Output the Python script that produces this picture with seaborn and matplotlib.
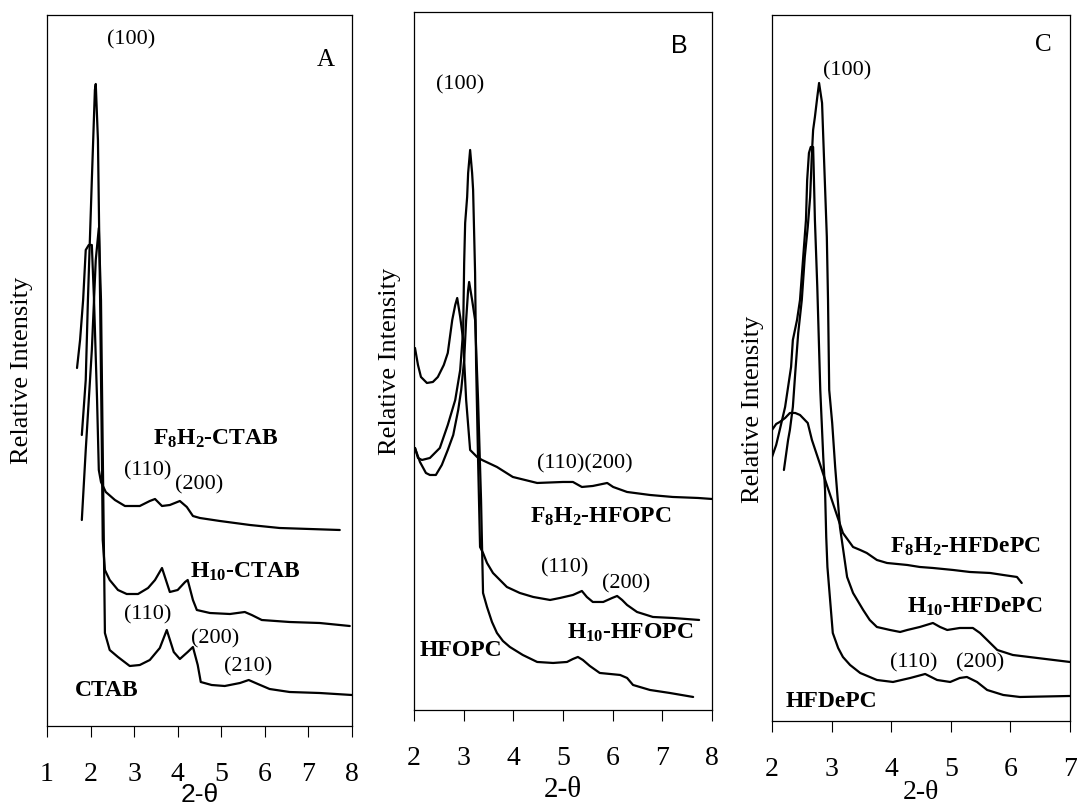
import numpy as np
import pandas as pd
import seaborn as sns
import matplotlib.pyplot as plt

# ---- panel A : CTAB series (2-theta, relative intensity) ----
a_ctab_x = [1.80, 1.89, 2.03, 2.12, 2.19, 2.24, 2.28, 2.31, 2.33, 2.44, 2.63, 2.90, 3.13, 3.36, 3.59, 3.75,
            3.91, 4.05, 4.23, 4.35, 4.46, 4.53, 4.78, 5.08, 5.43, 5.63, 5.84, 6.11, 6.57, 7.26, 8.00]
a_ctab_y = [206, 276, 376, 466, 498, 426, 276, 166, 93, 76, 69, 60, 61, 66, 78, 96,
            74, 67, 74, 79, 61, 44, 41, 40, 43, 46, 42, 37, 34, 33, 31]
a_h10_x = [1.80, 1.89, 1.94, 2.03, 2.10, 2.12, 2.17, 2.22, 2.26, 2.28, 2.33, 2.44, 2.63, 2.83, 3.09, 3.32,
           3.48, 3.64, 3.73, 3.82, 4.00, 4.17, 4.23, 4.35, 4.44, 4.74, 5.20, 5.54, 5.70, 5.93, 6.57, 7.26, 7.95]
a_h10_y = [291, 346, 426, 546, 636, 642, 586, 426, 276, 186, 156, 146, 136, 132, 132, 138,
           146, 158, 146, 134, 136, 144, 146, 126, 116, 113, 112, 114, 111, 106, 104, 103, 100]
a_f8h2_x = [1.69, 1.76, 1.83, 1.89, 1.96, 2.03, 2.08, 2.15, 2.19, 2.24, 2.35, 2.56, 2.79, 3.13, 3.36, 3.48,
            3.64, 3.82, 4.05, 4.21, 4.35, 4.51, 4.97, 5.66, 6.34, 7.03, 7.72]
a_f8h2_y = [358, 386, 426, 476, 481, 481, 426, 326, 256, 244, 234, 226, 220, 220, 225, 227,
            220, 221, 225, 219, 210, 208, 205, 201, 198, 197, 196]

# ---- panel B : HFOPC series ----
b_f8h2_x = [2.02, 2.08, 2.14, 2.26, 2.38, 2.48, 2.60, 2.68, 2.77, 2.83, 2.87, 2.93, 2.99, 3.05, 3.13, 3.27,
            3.37, 3.67, 3.99, 4.48, 5.00, 5.20, 5.38, 5.60, 5.89, 6.01, 6.29, 6.75, 7.21, 7.72, 8.00]
b_f8h2_y = [362, 345, 333, 327, 328, 333, 345, 357, 390, 405, 412, 393, 370, 310, 260, 253,
            250, 243, 233, 227, 228, 228, 223, 224, 227, 223, 218, 215, 213, 212, 211]
b_h10_x = [2.02, 2.08, 2.16, 2.32, 2.52, 2.68, 2.83, 2.93, 2.99, 3.01, 3.03, 3.07, 3.09, 3.13, 3.17, 3.19,
           3.23, 3.25, 3.29, 3.33, 3.39, 3.47, 3.59, 3.73, 3.87, 4.13, 4.40, 4.74, 4.94, 5.20, 5.38, 5.48,
           5.60, 5.81, 5.99, 6.09, 6.19, 6.29, 6.49, 6.81, 7.21, 7.74]
b_h10_y = [262, 252, 250, 252, 262, 285, 310, 340, 380, 447, 487, 513, 537, 560, 537, 520,
           437, 347, 250, 163, 157, 147, 137, 130, 123, 117, 113, 110, 112, 115, 119, 113,
           108, 108, 112, 114, 110, 105, 98, 93, 92, 90]
b_hfopc_x = [2.02, 2.12, 2.24, 2.32, 2.44, 2.56, 2.68, 2.79, 2.89, 2.95, 3.01, 3.05, 3.09, 3.11, 3.17, 3.23,
             3.29, 3.35, 3.39, 3.47, 3.57, 3.67, 3.79, 3.93, 4.19, 4.48, 4.80, 5.08, 5.20, 5.30, 5.40, 5.54,
             5.74, 6.15, 6.29, 6.41, 6.75, 7.15, 7.62]
b_hfopc_y = [262, 248, 237, 235, 235, 245, 260, 275, 300, 320, 350, 390, 420, 428, 410, 390,
             310, 210, 117, 103, 88, 77, 69, 63, 55, 48, 47, 48, 51, 53, 50, 44,
             37, 35, 32, 25, 20, 17, 13]

# ---- panel C : HFDePC series ----
c_f8h2_x = [2.00, 2.07, 2.13, 2.22, 2.30, 2.39, 2.47, 2.60, 2.67, 2.81, 2.92, 3.06, 3.19, 3.36, 3.48, 3.59,
            3.76, 3.93, 4.27, 4.48, 4.70, 5.04, 5.32, 5.66, 5.88, 6.11, 6.19]
c_f8h2_y = [291, 297, 299, 303, 308, 308, 306, 298, 281, 256, 236, 211, 188, 174, 171, 168,
            161, 158, 156, 154, 153, 151, 149, 148, 146, 144, 138]
c_h10_x = [2.20, 2.27, 2.30, 2.35, 2.39, 2.44, 2.50, 2.55, 2.60, 2.64, 2.67, 2.69, 2.72, 2.76, 2.79, 2.84,
           2.86, 2.89, 2.92, 2.94, 2.96, 3.01, 3.06, 3.14, 3.26, 3.36, 3.53, 3.64, 3.76, 3.98, 4.15, 4.27,
           4.48, 4.70, 4.82, 4.94, 5.15, 5.37, 5.49, 5.61, 5.78, 6.04, 6.45, 7.00]
c_h10_y = [251, 281, 291, 314, 348, 388, 421, 464, 494, 524, 568, 591, 604, 624, 638, 618,
           584, 534, 484, 421, 331, 298, 254, 194, 144, 128, 111, 101, 94, 91, 89, 91,
           94, 98, 94, 91, 93, 93, 88, 81, 71, 66, 63, 59]
c_hfdepc_x = [2.00, 2.07, 2.13, 2.22, 2.27, 2.32, 2.35, 2.42, 2.47, 2.52, 2.57, 2.59, 2.62, 2.65, 2.69, 2.70,
              2.72, 2.76, 2.81, 2.86, 2.89, 2.91, 2.93, 3.02, 3.11, 3.19, 3.31, 3.48, 3.76, 4.03, 4.32, 4.57,
              4.77, 4.99, 5.15, 5.27, 5.44, 5.61, 5.88, 6.16, 7.00]
c_hfdepc_y = [264, 276, 291, 314, 334, 354, 381, 401, 421, 461, 501, 541, 568, 574, 574, 551,
              501, 434, 331, 264, 231, 184, 154, 88, 73, 64, 56, 48, 41, 39, 43, 47,
              41, 39, 43, 44, 39, 31, 26, 24, 25]

rows = []
for panel, name, xs, ys in [
    ("A", "F8H2-CTAB", a_f8h2_x, a_f8h2_y), ("A", "H10-CTAB", a_h10_x, a_h10_y), ("A", "CTAB", a_ctab_x, a_ctab_y),
    ("B", "F8H2-HFOPC", b_f8h2_x, b_f8h2_y), ("B", "H10-HFOPC", b_h10_x, b_h10_y), ("B", "HFOPC", b_hfopc_x, b_hfopc_y),
    ("C", "F8H2-HFDePC", c_f8h2_x, c_f8h2_y), ("C", "H10-HFDePC", c_h10_x, c_h10_y), ("C", "HFDePC", c_hfdepc_x, c_hfdepc_y),
]:
    for i, (x, y) in enumerate(zip(xs, ys)):
        rows.append({"panel": panel, "sample": name, "order": i, "two_theta": x, "intensity": y})
df = pd.DataFrame(rows)

sns.set_theme(style="white")
plt.rcParams["font.family"] = ["Liberation Serif", "DejaVu Serif"]
plt.rcParams["text.color"] = "black"
plt.rcParams["axes.labelcolor"] = "black"
plt.rcParams["xtick.color"] = "black"
plt.rcParams["mathtext.fontset"] = "custom"
plt.rcParams["mathtext.rm"] = "Liberation Serif:bold"
plt.rcParams["mathtext.it"] = "Liberation Serif:italic:bold"
plt.rcParams["mathtext.bf"] = "Liberation Serif:bold"

fig = plt.figure(figsize=(10.77, 8.1), dpi=100)
axes = {
    "A": fig.add_axes([0.0436, 0.1037, 0.2832, 0.8778]),
    "B": fig.add_axes([0.3844, 0.1235, 0.2767, 0.8617]),
    "C": fig.add_axes([0.7168, 0.1099, 0.2767, 0.8716]),
}
xlims = {"A": (1, 8), "B": (2, 8), "C": (2, 7)}
ylims = {"A": (0, 711), "B": (0, 698), "C": (0, 706)}

# text labels: (text, x, y, bold)
notes = {
    "A": [("(100)", 2.93, 686, False), ("F$_8$H$_2$-CTAB", 4.88, 287, True), ("(110)", 3.32, 255, False),
          ("(200)", 4.49, 241, False), ("H$_{10}$-CTAB", 5.56, 154, True), ("(110)", 3.32, 111, False),
          ("(200)", 4.85, 87, False), ("(210)", 5.61, 59, False), ("CTAB", 2.38, 36, True)],
    "B": [("(100)", 2.93, 625, False), ("(110)(200)", 5.44, 246, False), ("F$_8$H$_2$-HFOPC", 5.76, 193, True),
          ("(110)", 5.04, 142, False), ("(200)", 6.27, 126, False), ("H$_{10}$-HFOPC", 6.35, 77, True),
          ("HFOPC", 2.95, 59, True)],
    "C": [("(100)", 3.26, 650, False), ("F$_8$H$_2$-HFDePC", 5.24, 174, True), ("H$_{10}$-HFDePC", 5.41, 114, True),
          ("(110)", 4.37, 58, False), ("(200)", 5.49, 58, False), ("HFDePC", 2.99, 19, True)],
}

for p, ax in axes.items():
    sub = df[df["panel"] == p]
    sns.lineplot(data=sub, x="two_theta", y="intensity", units="sample", estimator=None, sort=False,
                 color="black", linewidth=1.6, ax=ax)
    ax.set_xlim(*xlims[p])
    ax.set_ylim(*ylims[p])
    ax.set_xticks(range(xlims[p][0], xlims[p][1] + 1))
    ax.set_yticks([])
    ax.tick_params(axis="x", direction="out", length=8, width=0.8, pad=18, labelsize=20, bottom=True,
                   colors="black")
    for s in ax.spines.values():
        s.set_color("black")
        s.set_linewidth(0.9)
    ax.set_ylabel("Relative Intensity", fontsize=19)
    for txt, x, y, bold in notes[p]:
        ax.text(x, y, txt, ha="center", va="center", fontsize=17 if bold else 16,
                fontweight="bold" if bold else "normal", color="black")

axes["A"].set_xlabel("2-θ", fontsize=19, family="Liberation Sans")
axes["B"].set_xlabel("2-θ", fontsize=21)
axes["C"].set_xlabel("2-θ", fontsize=20)
axes["A"].xaxis.set_label_coords(0.5, -0.080)
axes["B"].xaxis.set_label_coords(0.5, -0.096)
axes["C"].xaxis.set_label_coords(0.5, -0.083)
axes["A"].yaxis.set_label_coords(-0.045, 0.5)
axes["B"].yaxis.set_label_coords(-0.045, 0.5)
axes["C"].yaxis.set_label_coords(-0.028, 0.442)

axes["A"].text(7.40, 666, "A", ha="center", va="center", fontsize=18)
axes["B"].text(7.34, 664, "B", ha="center", va="center", fontsize=18, family="Liberation Sans")
axes["C"].text(6.55, 676, "C", ha="center", va="center", fontsize=18)

fig.savefig("out.png", dpi=100)
